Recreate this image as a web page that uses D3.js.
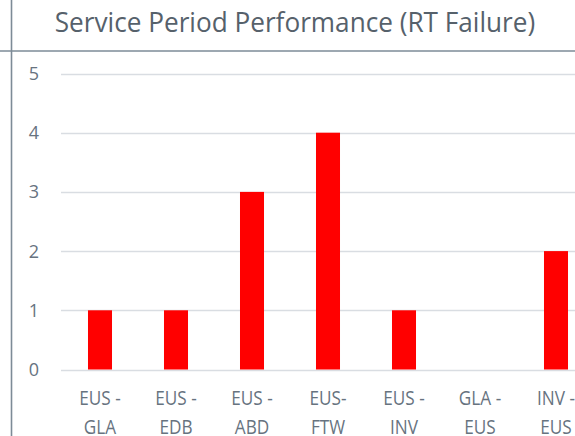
<!DOCTYPE html>
<meta charset="utf-8">
<style>
body { margin: 0; background: #fff; }
svg { display: block; }
text { font-family: "Open Sans", sans-serif; }
</style>
<body>
<script src="https://d3js.org/d3.v7.min.js"></script>
<script>
// data
var title = "Service Period Performance (RT Failure)";
var routes = ["EUS -|GLA", "EUS -|EDB", "EUS -|ABD", "EUS-|FTW", "EUS -|INV", "GLA -|EUS", "INV -|EUS"];
var failures = [1, 1, 3, 4, 1, 0, 2];
var yTicks = [0, 1, 2, 3, 4, 5];

var width = 575, height = 436;

var svg = d3.select("body").append("svg")
    .attr("width", width)
    .attr("height", height);

var x = d3.scaleBand()
    .domain(routes)
    .range([62, 62 + 76 * routes.length])
    .paddingInner(0.684)
    .paddingOuter(0.342);

var y = d3.scaleLinear()
    .domain([0, 5])
    .range([369.5, 73.5]);

// frame lines (the chart is cropped)
svg.append("line")
    .attr("x1", 0).attr("x2", width)
    .attr("y1", 51).attr("y2", 51)
    .attr("stroke", "#7d8b97").attr("stroke-width", 1.6);
svg.append("line")
    .attr("x1", 11.5).attr("x2", 11.5)
    .attr("y1", 0).attr("y2", height)
    .attr("stroke", "#7d8b97").attr("stroke-width", 1.6);

svg.append("text")
    .attr("x", 295).attr("y", 32)
    .attr("text-anchor", "middle")
    .attr("fill", "#56616b")
    .attr("transform", "translate(295,0) scale(0.97,1) translate(-295,0)")
    .style("font-size", "27px")
    .text(title);

// grid
svg.append("g").selectAll("line")
    .data(yTicks)
  .enter().append("line")
    .attr("x1", 61).attr("x2", width)
    .attr("y1", function(d) { return Math.round(y(d)) + 0.5; })
    .attr("y2", function(d) { return Math.round(y(d)) + 0.5; })
    .attr("stroke", "#d9dde2").attr("stroke-width", 1.3);

svg.append("g").selectAll("text")
    .data(yTicks)
  .enter().append("text")
    .attr("x", 39)
    .attr("y", function(d) { return y(d); })
    .attr("dy", "0.36em")
    .attr("text-anchor", "end")
    .attr("fill", "#67737f")
    .style("font-size", "18px")
    .text(function(d) { return d; });

svg.append("g").selectAll("rect")
    .data(failures)
  .enter().append("rect")
    .attr("x", function(d, i) { return x(routes[i]); })
    .attr("width", x.bandwidth())
    .attr("y", function(d) { return y(d); })
    .attr("height", function(d) { return y(0) - y(d); })
    .attr("fill", "#ff0000");

var lab = svg.append("g").selectAll("g")
    .data(routes)
  .enter().append("g")
    .attr("transform", function(d) { return "translate(" + (x(d) + x.bandwidth() / 2) + ",0) scale(0.86,1)"; });

lab.append("text")
    .attr("y", 405)
    .attr("text-anchor", "middle")
    .attr("fill", "#67737f")
    .style("font-size", "20px")
    .text(function(d) { return d.split("|")[0]; });

lab.append("text")
    .attr("y", 434)
    .attr("text-anchor", "middle")
    .attr("fill", "#67737f")
    .style("font-size", "20px")
    .text(function(d) { return d.split("|")[1]; });
</script>
</body>
